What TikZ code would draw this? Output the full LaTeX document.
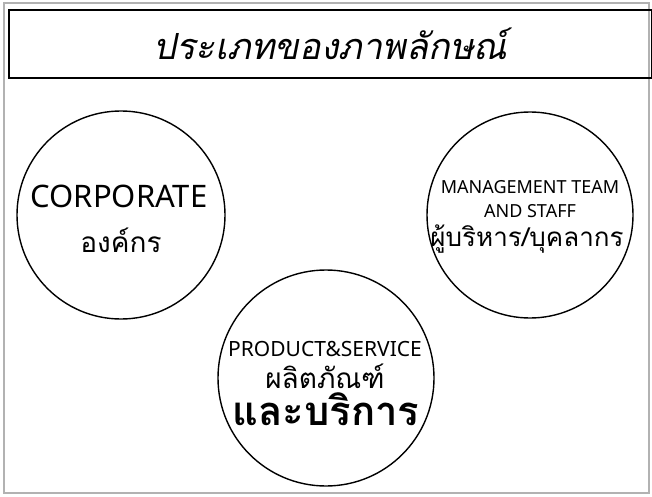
\documentclass[tikz,border=0pt]{standalone}
\usepackage{fontspec}
\setmainfont{Noto Sans}
\newfontfamily\thaifont[Script=Thai]{Loma}
\newfontfamily\titlefont[Script=Thai,FakeSlant=0.2]{Loma}
\newcommand{\fsz}[1]{\fontsize{#1}{#1}\selectfont}
\tikzset{
  bubble/.style={draw,circle,line width=1.4pt,minimum size=#1,inner sep=0pt},
  txt/.style={anchor=base,inner sep=0pt}
}
\begin{document}
\begin{tikzpicture}[x=1pt,y=-1pt]
   \useasboundingbox (0,0) rectangle (652,497);
   \draw[gray!60,line width=1.2pt] (4,3) rectangle (649,493);

   \node[draw,line width=1.5pt,minimum width=643pt,minimum height=68pt,inner sep=0pt]
     (title) at (330.5,44) {\titlefont\fsz{36}ประเภทของภาพลักษณ์};

   \node[bubble=208pt] (corp) at (121,215) {};
   \node[bubble=206pt] (mgmt) at (530,215) {};
   \node[bubble=216pt] (prod) at (326,378) {};

   \node[txt] (corpen) at (119,207) {\fsz{31}CORPORATE};
   \node[txt] (corpth) at (121,252) {\thaifont\fsz{28}องค์กร};

   \node[txt] (mgmten) at (530,193) {\fsz{18}MANAGEMENT TEAM};
   \node[txt] (staffen) at (530,217) {\fsz{18}AND STAFF};
   \node[txt] (mgmtth) at (527,246) {\thaifont\fsz{26}ผู้บริหาร/บุคลากร};

   \node[txt] (proden) at (325,356) {\fsz{21}PRODUCT\&SERVICE};
   \node[txt] (prodth) at (325,388) {\thaifont\fsz{28}ผลิตภัณฑ์};
   \node[txt] (servth) at (326,425) {\thaifont\bfseries\fsz{40}และบริการ};
\end{tikzpicture}
\end{document}
